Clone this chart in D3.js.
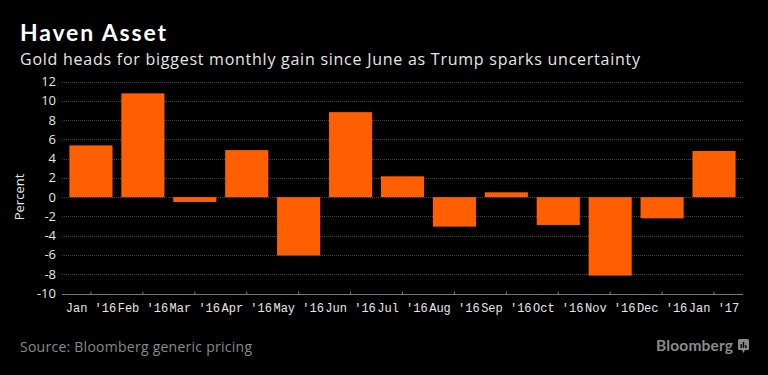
<!DOCTYPE html>
<html>
<head>
<meta charset="utf-8">
<script src="https://cdn.jsdelivr.net/npm/d3@7"></script>
<style>
  body { margin: 0; background: #000; }
  svg { display: block; }
</style>
</head>
<body>
<div id="chart"></div>
<script>
// months and monthly gold change, percent
const months = ["Jan '16", "Feb '16", "Mar '16", "Apr '16", "May '16", "Jun '16", "Jul '16",
                "Aug '16", "Sep '16", "Oct '16", "Nov '16", "Dec '16", "Jan '17"]
const change = [5.37, 10.77, -0.5, 4.88, -6.05, 8.82, 2.16, -3.06, 0.5, -2.89, -8.14, -2.2, 4.79]
const yTicks = [12, 10, 8, 6, 4, 2, 0, -2, -4, -6, -8, -10]

const W = 768, H = 375
const svg = d3.select("#chart").append("svg")
    .attr("width", W).attr("height", H)
    .style("background", "#000")

const x = d3.scaleBand().domain(months).range([65, 740]).paddingInner(0.17).paddingOuter(0.085)
const y = d3.scaleLinear().domain([-10, 12]).range([293.5, 81.5])

// title block
svg.append("text").attr("x", 20).attr("y", 41)
    .attr("fill", "#fff").attr("font-family", "Lato, 'Open Sans', sans-serif")
    .attr("font-weight", 700).attr("font-size", 23)
    .attr("textLength", 146)
    .text("Haven Asset")
svg.append("text").attr("x", 20).attr("y", 64.5)
    .attr("fill", "#e6e6e6").attr("font-family", "'Open Sans', sans-serif")
    .attr("font-size", 16)
    .attr("textLength", 620)
    .text("Gold heads for biggest monthly gain since June as Trump sparks uncertainty")

// gridlines
svg.append("g").selectAll("line")
    .data(yTicks.filter(d => d !== -10))
    .join("line")
    .attr("x1", 62).attr("x2", 743)
    .attr("y1", d => Math.round(y(d)) + 0.5).attr("y2", d => Math.round(y(d)) + 0.5)
    .attr("stroke", "#444").attr("stroke-dasharray", "1,1")

// y labels
svg.append("g").selectAll("text")
    .data(yTicks).join("text")
    .attr("x", 56).attr("y", d => y(d) + 4.5)
    .attr("text-anchor", "end")
    .attr("fill", "#e6e6e6").attr("font-family", "'Open Sans', sans-serif")
    .attr("font-size", 13)
    .text(d => d)

svg.append("text")
    .attr("transform", "translate(24,197) rotate(-90)")
    .attr("text-anchor", "middle")
    .attr("fill", "#e6e6e6").attr("font-family", "'Open Sans', sans-serif")
    .attr("font-size", 13)
    .text("Percent")

// bars
svg.append("g").selectAll("rect")
    .data(change).join("rect")
    .attr("x", (d, i) => x(months[i]))
    .attr("width", x.bandwidth())
    .attr("y", d => y(Math.max(0, d)))
    .attr("height", d => Math.abs(y(d) - y(0)))
    .attr("fill", "#ff5f00")

// bottom axis
const xAxis = d3.axisBottom(x).tickSize(0).tickPadding(9)
const gx = svg.append("g").attr("transform", `translate(0,${Math.round(y(-10)) + 0.5})`).call(xAxis)
gx.select(".domain").remove()
gx.append("line").attr("x1", 62).attr("x2", 743).attr("stroke", "#777").attr("stroke-width", 1.2)
gx.selectAll(".tick").append("line").attr("y1", 0).attr("y2", -3).attr("stroke", "#777")
gx.selectAll(".tick text")
    .attr("fill", "#e6e6e6")
    .attr("font-family", "'Liberation Mono', monospace")
    .attr("font-size", 12)

// footer
svg.append("text").attr("x", 20).attr("y", 352)
    .attr("fill", "#8a8a8a").attr("font-family", "'Open Sans', sans-serif")
    .attr("font-size", 14)
    .attr("textLength", 232)
    .text("Source: Bloomberg generic pricing")
svg.append("text").attr("x", 656).attr("y", 351)
    .attr("fill", "#8a8a8a").attr("font-family", "Lato, sans-serif")
    .attr("font-weight", 700).attr("font-size", 15.5)
    .attr("textLength", 77)
    .text("Bloomberg")
const icon = svg.append("g").attr("transform", "translate(738,339)")
icon.append("rect").attr("width", 11).attr("height", 11).attr("rx", 1.5).attr("fill", "#8a8a8a")
icon.append("path").attr("d", "M4,11 L5.5,14 L7,11 Z").attr("fill", "#8a8a8a")
icon.selectAll(".b").data([4, 6, 3]).join("rect")
    .attr("x", (d, i) => 2.5 + i * 2.3).attr("y", d => 9 - d)
    .attr("width", 1.4).attr("height", d => d).attr("fill", "#000")
</script>
</body>
</html>
